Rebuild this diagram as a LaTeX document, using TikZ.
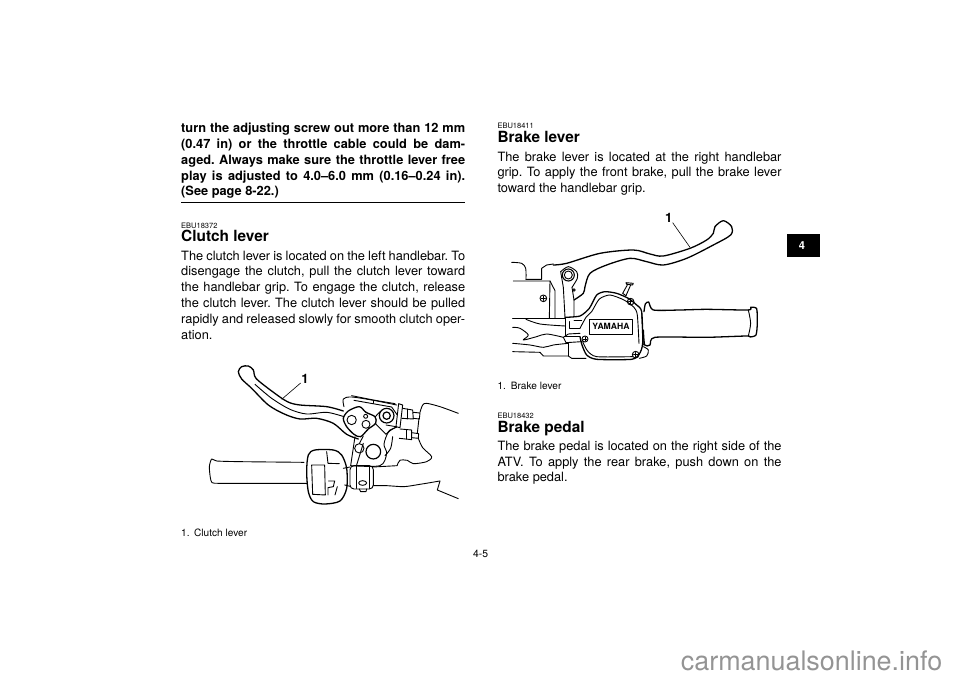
\documentclass[tikz,border=0pt]{standalone}
\usepackage{fontspec}
\setmainfont{TeX Gyre Heros}
\newcommand{\justline}[1]{\makebox[284pt][s]{#1}}
\tikzset{
  textline/.style={anchor=base west,inner sep=0pt,font=\fontsize{12.8}{15.9}\selectfont},
  warnline/.style={textline,font=\fontsize{12.8}{15.9}\selectfont\bfseries},
  headline/.style={anchor=base west,inner sep=0pt,font=\fontsize{15.4}{18}\selectfont\bfseries},
  codeline/.style={anchor=base west,inner sep=0pt,font=\fontsize{7.5}{9}\selectfont},
  capline/.style={anchor=base west,inner sep=0pt,font=\fontsize{10.1}{12}\selectfont},
  partnum/.style={inner sep=0pt,font=\fontsize{13}{15}\selectfont\bfseries},
  sketch/.style={line width=0.9pt,line join=round,line cap=round},
  heavy/.style={line width=1.3pt,line join=round,line cap=round},
}
\begin{document}
\frenchspacing
\begin{tikzpicture}[x=1pt,y=-1pt]
\useasboundingbox (0,0) rectangle (960,679);
% left column
\node[warnline] (warna) at (181,132.7) {\justline{turn the adjusting screw out more than 12 mm}};
\node[warnline] (warnb) at (181,148.6) {\justline{(0.47 in) or the throttle cable could be dam-}};
\node[warnline] (warnc) at (181,164.4) {\justline{aged. Always make sure the throttle lever free}};
\node[warnline] (warnd) at (181,180.2) {\justline{play is adjusted to 4.0–6.0 mm (0.16–0.24 in).}};
\node[warnline] (warne) at (181,196) {(See page 8-22.)};
\draw[line width=1.4pt] (181,202.4) -- (465,202.4);
\node[codeline] (clutchcode) at (181,228) {EBU18372};
\node[headline] (clutchhead) at (181,241.7) {Clutch lever};
\node[textline] (clutcha) at (181,260) {\justline{The clutch lever is located on the left handlebar. To}};
\node[textline] (clutchb) at (181,275.8) {\justline{disengage the clutch, pull the clutch lever toward}};
\node[textline] (clutchc) at (181,291.7) {\justline{the handlebar grip. To engage the clutch, release}};
\node[textline] (clutchd) at (181,307.5) {\justline{the clutch lever. The clutch lever should be pulled}};
\node[textline] (clutche) at (181,323.3) {\justline{rapidly and released slowly for smooth clutch oper-}};
\node[textline] (clutchf) at (181,339.2) {ation.};
\node[capline] (clutchcapn) at (181,536) {1.};
\node[capline] (clutchcap) at (194,536) {Clutch lever};
% right column
\node[codeline] (brakecode) at (497.3,128.5) {EBU18411};
\node[headline] (brakehead) at (497.3,142.7) {Brake lever};
\node[textline] (brakea) at (497.3,161.3) {\justline{The brake lever is located at the right handlebar}};
\node[textline] (brakeb) at (497.3,177) {\justline{grip. To apply the front brake, pull the brake lever}};
\node[textline] (brakec) at (497.3,192.8) {toward the handlebar grip.};
\node[capline] (brakecapn) at (497.3,389.3) {1.};
\node[capline] (brakecap) at (510.7,389.3) {Brake lever};
\node[codeline] (pedalcode) at (497.3,418) {EBU18432};
\node[headline] (pedalhead) at (497.3,432.3) {Brake pedal};
\node[textline] (pedala) at (497.3,450.3) {\justline{The brake pedal is located on the right side of the}};
\node[textline] (pedalb) at (497.3,466.1) {\justline{ATV. To apply the rear brake, push down on the}};
\node[textline] (pedalc) at (497.3,481.9) {brake pedal.};
% tab, page number, site name
\fill[black] (787,234.3) rectangle (820,257);
\node[partnum,white,font=\fontsize{11}{13}\selectfont\bfseries] (tabnum) at (802,246) {4};
\node[inner sep=0pt,font=\fontsize{10.4}{12}\selectfont] (pagenum) at (480.7,553.7) {4-5};
\node[anchor=base west,inner sep=0pt,text=black!42,font=\fontsize{26.9}{30}\selectfont] (sitename) at (680.7,670) {carmanualsonline.info};
% clutch lever sketch
\begin{scope}[shift={(200,355)},x=0.3333pt,y=-0.3333pt]
\begin{scope}[sketch]
% handlebar and housing on the right
\draw plot[smooth,tension=0.5] coordinates {(775,175) (720,155) (680,145) (668,150) (660,172)};
\draw plot[smooth,tension=0.4] coordinates {(657,190) (652,235)};
\draw plot[smooth,tension=0.5] coordinates {(655,250) (668,278) (695,305) (680,320) (640,326) (622,316) (600,316) (592,330)};
\draw (520,336) -- (592,332);
\draw plot[smooth,tension=0.4] coordinates {(520,392) (560,392) (612,395) (660,388) (720,378)};
\draw (720,378) -- (712,405) -- (775,431);
% perch
\draw plot[smooth,tension=0.5] coordinates {(432,155) (430,132) (455,126) (520,136) (590,150)};
\draw (455,122) -- (520,135) -- (585,146);
\draw (462,136) -- (575,156) -- (592,180);
\draw (520,145) -- (520,138);
\draw (596,146) -- (608,150) -- (600,218) -- (588,215) -- (596,146);
\draw (558,210) -- (588,215);
\draw (525,186) -- (540,170);
\draw (525,205) -- (558,238) -- (570,225) -- (590,216);
\draw[line width=1.2pt] (560,182) circle (22);
\draw[line width=1.2pt] (560,182) circle (11);
% fittings
\draw (608,160) -- (638,165) -- (640,192) -- (606,190);
\draw (622,162) -- (622,192);
\draw (640,172) -- (660,174) -- (658,192) -- (640,190);
\draw (600,222) -- (635,225) -- (635,254) -- (598,250);
\draw (618,224) -- (618,252);
\draw (635,233) -- (656,236) -- (655,250) -- (635,248);
% pivot plate
\draw[heavy] plot[smooth cycle,tension=0.5] coordinates {(430,190) (445,168) (478,155) (498,172) (525,185) (527,205) (505,222) (482,245) (462,238) (440,215)};
\draw (455,195) circle (14);
\draw (498,208) circle (12);
\draw (497,184) circle (6);
% lower body
\draw (465,245) -- (452,332);
\draw (490,243) -- (478,266);
\draw (470,330) -- (490,265);
\draw (478,280) circle (14);
\draw[line width=1.2pt] (520,290) circle (22);
\draw plot[smooth,tension=0.5] coordinates {(590,216) (565,232) (552,268) (560,296) (540,332) (452,332)};
\draw plot[smooth,tension=0.5] coordinates {(578,245) (572,280) (555,302)};
% lever
\draw[heavy] plot[smooth,tension=0.5] coordinates {(430,168) (380,155) (300,150) (262,140) (215,108) (168,70) (160,45) (145,33) (125,35) (115,50) (125,72) (155,100) (205,150) (255,178) (300,192) (350,190) (400,205) (440,238) (475,252)};
\draw plot[smooth,tension=0.5] coordinates {(165,88) (215,130) (270,163) (320,177) (380,172) (432,185)};
\coordinate (clutchleader) at (245,133);
% grip
\draw plot[smooth,tension=0.4] coordinates {(312,322) (120,320) (50,318) (35,312) (28,335) (31,368) (36,383) (55,385) (120,385) (322,385)};
% clamp
\draw (430,340) -- (450,336);
\draw (434,390) -- (450,394);
\draw[rounded corners=4pt] (450,332) rectangle (520,402);
\draw (470,333) -- (470,400);
\draw (508,333) -- (508,400);
\draw (488,384) ellipse (12 and 7);
\draw (478,402) -- (482,410) -- (498,410) -- (500,402);
% switch housing
\draw[heavy] plot[smooth cycle,tension=0.5] coordinates {(325,300) (345,285) (400,285) (425,300) (440,340) (440,400) (420,438) (375,447) (340,440) (325,410) (320,350)};
\draw (335,330) -- (374,330) -- (376,420) -- (338,418) -- cycle;
\draw (380,290) -- (384,325) -- (418,326);
\draw (386,378) -- (404,378) -- (400,395) -- (384,398) -- (384,420);
\draw (405,420) -- (412,395);
\end{scope}
\node[partnum] (clutchnum) at (315,72) {1};
\draw[line width=0.6pt] (302,84) -- (clutchleader);
\end{scope}
% brake lever sketch
\begin{scope}[shift={(500,230)},x=0.3333pt,y=-0.3333pt]
\begin{scope}[sketch]
% lever
\draw[heavy] plot[smooth,tension=0.5] coordinates {(160,105) (200,100) (300,70) (400,60) (450,72) (490,78) (570,55) (620,30) (640,10) (645,-10) (670,-28) (695,-10) (692,15) (640,45) (560,85) (490,105) (440,95) (390,85) (320,105) (270,130) (255,170) (250,190) (222,210)};
\coordinate (brakeleader) at (570,52);
% bar clamp on the left
\draw plot[smooth,tension=0.5] coordinates {(35,97) (65,100) (77,115) (78,148)};
\draw (78,148) -- (125,148) -- (125,115) -- (140,105) -- (160,102);
\draw (40,153) -- (150,153) -- (165,182) -- (165,265);
\draw (150,153) -- (148,265);
\draw (38,265) -- (100,265) -- (195,265);
\draw[line width=1.1pt] (205,135) circle (18);
\draw (205,135) circle (12);
\draw plot[smooth,tension=0.5] coordinates {(182,125) (205,110) (230,125) (232,145) (216,172)};
\draw (182,125) -- (190,172) -- (195,262);
\draw (216,172) -- (222,210) -- (222,258);
\draw (222,180) circle (4);
% screws
\draw (130,205) circle (10);
\draw (124,205) -- (136,205) (130,199) -- (130,211);
\draw (392,215) circle (10);
\draw (386,215) -- (398,215) (392,209) -- (392,221);
\draw (255,327) circle (9);
\draw (250,327) -- (260,327) (255,322) -- (255,332);
\draw (407,374) circle (10);
\draw (401,374) -- (413,374) (407,368) -- (407,380);
% cover
\draw[heavy] plot[smooth,tension=0.4] coordinates {(195,262) (240,258) (268,235) (290,195) (315,185) (350,190) (385,205) (410,225) (425,245) (428,340) (418,372) (395,388) (290,388) (260,375) (246,345) (240,320)};
\draw plot[smooth,tension=0.4] coordinates {(240,295) (258,262) (275,245) (298,207) (330,195) (372,210) (402,232) (412,255) (417,340)};
\draw plot[smooth,tension=0.4] coordinates {(248,335) (262,362) (290,380) (398,380)};
\draw (195,262) -- (195,318) -- (240,318);
\draw (208,275) -- (208,295) -- (240,295);
\draw (222,272) -- (245,272);
\draw (268,268) rectangle (398,312);
\node[inner sep=0pt,font=\fontsize{8.6}{10}\selectfont\bfseries] (yamaha) at (333,290) {YAMAHA};
% adjuster pin
\draw (368,190) -- (382,165);
\draw (378,197) -- (392,165);
\draw (378,158) -- (400,160) -- (398,165) -- (380,163) -- cycle;
\draw (368,190) -- (378,197);
% grip
\draw[heavy] plot[smooth,tension=0.4] coordinates {(432,245) (436,222) (446,216) (460,240) (540,240) (620,238) (745,240) (752,232) (770,236) (772,280) (768,315) (750,321) (740,318) (620,322) (465,322) (450,345) (434,345) (430,300)};
\draw plot[smooth,tension=0.5] coordinates {(745,240) (752,280) (745,318)};
\draw (425,250) -- (430,345);
\draw plot[smooth,tension=0.5] coordinates {(430,350) (445,360) (440,378) (418,385)};
% cables below the clamp
\draw plot[smooth,tension=0.5] coordinates {(78,268) (120,282) (195,288)};
\draw plot[smooth,tension=0.5] coordinates {(38,292) (60,295) (85,315) (70,330) (110,320) (140,312) (190,322)};
\draw (190,322) -- (205,312) -- (240,310);
\draw (190,322) -- (198,338) -- (245,335);
\draw plot[smooth,tension=0.5] coordinates {(38,340) (90,345) (130,352) (160,345) (205,340)};
\draw (38,365) -- (120,367) -- (130,378) -- (205,378) -- (215,385) -- (258,385);
\draw (205,340) -- (205,378);
\end{scope}
\node[partnum] (brakenum) at (506,-35) {1};
\draw[line width=0.6pt] (518,-22) -- (brakeleader);
\end{scope}
\end{tikzpicture}
\end{document}
